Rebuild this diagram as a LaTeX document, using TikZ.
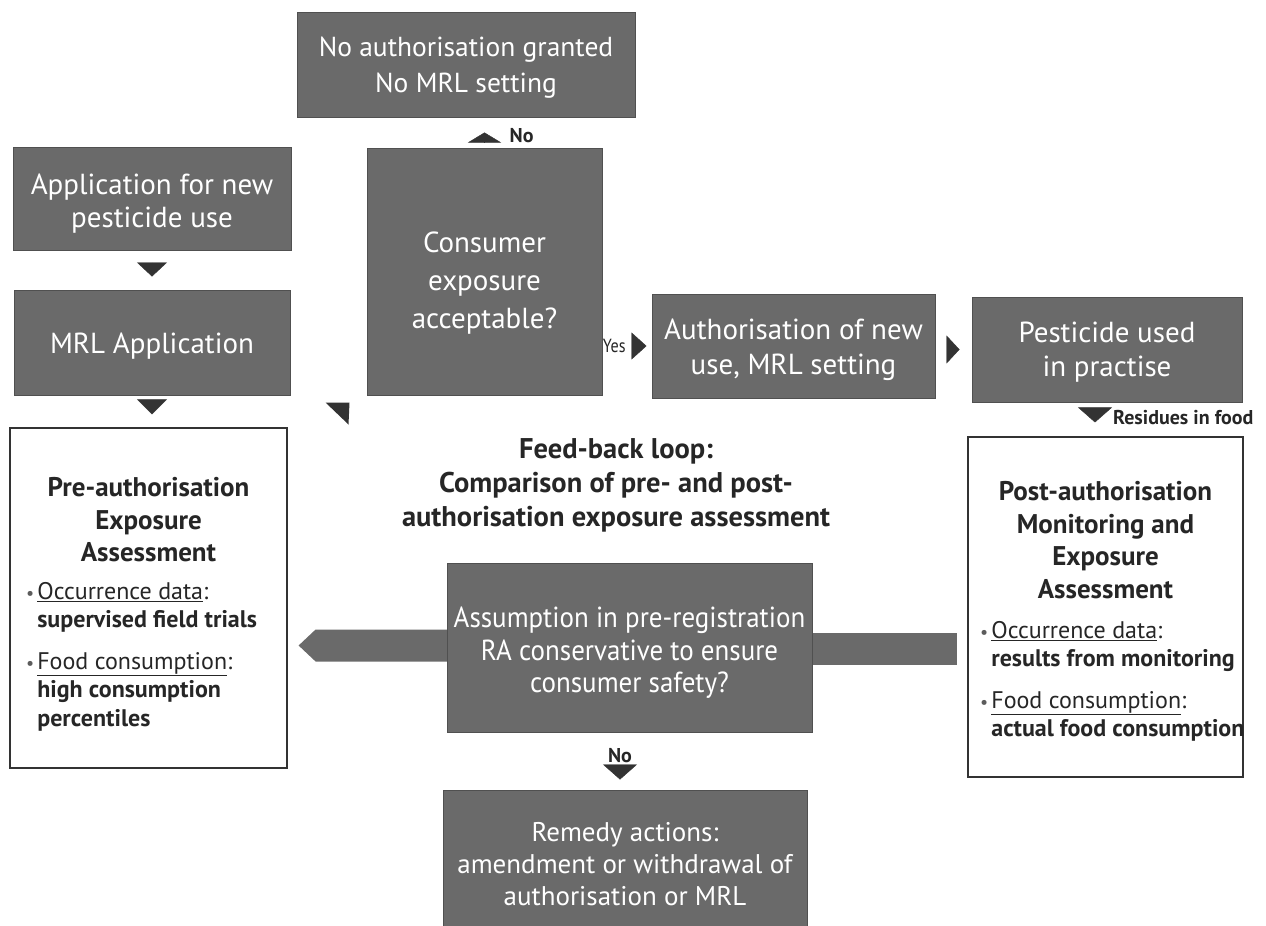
\documentclass[tikz,border=0pt]{standalone}
\usepackage{fontspec}
\setmainfont{PT Sans}
\usetikzlibrary{arrows.meta,calc}
\definecolor{boxgray}{HTML}{6A6A6A}
\definecolor{boxedge}{HTML}{505050}
\definecolor{tricol}{HTML}{333333}
\definecolor{txtcol}{HTML}{262626}
\newcommand\bulmark{{\color{txtcol!75}\fontsize{18}{20}\selectfont\textbullet}}
\begin{document}
\begin{tikzpicture}[x=1pt,y=-1pt,
  gbox/.style={draw=boxedge, line width=1pt, fill=boxgray, text=white, align=center,
    inner sep=0pt, font=\fontsize{29}{34}\selectfont},
  wbox/.style={draw=black!80, line width=1.2pt, fill=white, inner sep=0pt},
  tipc/.style 2 args={draw=tricol, line width=0.4pt, -{Triangle[width=#1,length=#2]}},
  lbl/.style={inner sep=0pt, text=txtcol, font=\bfseries\fontsize{20}{22}\selectfont},
  titletext/.style={inner sep=0pt, text=txtcol, align=center, font=\bfseries\fontsize{27}{32.5}\selectfont},
  bultext/.style={inner sep=0pt, text=txtcol, anchor=north west, font=\fontsize{24}{28.5}\selectfont}
]
\useasboundingbox (0,0) rectangle (1266,926);

% gray boxes
\node[gbox, minimum width=338pt, minimum height=105pt, font=\fontsize{27.5}{36}\selectfont] (top) at (466,64.5)
  {\vphantom{Ag}\\[-30pt]No authorisation granted\\No MRL setting};
\node[gbox, minimum width=235pt, minimum height=247pt, font=\fontsize{29}{38}\selectfont] (cons) at (484.5,271.5)
  {\vphantom{Ag}\\[-15pt]Consumer\\exposure\\acceptable?};
\node[gbox, minimum width=278pt, minimum height=103pt, font=\fontsize{29}{33}\selectfont] (app) at (152,198.5)
  {\vphantom{Ag}\\[-22pt]Application for new\\pesticide use};
\node[gbox, minimum width=276pt, minimum height=105pt] (mrl) at (152,342.5)
  {\vphantom{Ag}\\[-26pt]MRL Application};
\node[gbox, minimum width=283pt, minimum height=104pt, font=\fontsize{29}{35}\selectfont] (auth) at (793.5,346)
  {\vphantom{Ag}\\[-27pt]Authorisation of new\\use, MRL setting};
\node[gbox, minimum width=270pt, minimum height=105pt, font=\fontsize{29}{34}\selectfont] (pest) at (1107,349.5)
  {\vphantom{Ag}\\[-28pt]Pesticide used\\in practise};

% white boxes
\node[wbox, minimum width=277pt, minimum height=340pt] (pre) at (148.5,598) {};
\node[wbox, minimum width=275pt, minimum height=340pt] (post) at (1105.5,607) {};

% thick feedback arrows
\fill[boxgray] ($(pre.east |- 0,647.5)+(28,-18)$) -- (447,629.5) -- (447,661.5)
  -- ($(pre.east |- 0,647.5)+(28,14)$) -- ($(pre.east |- 0,647.5)+(11,-2)$) -- cycle;
\fill[boxgray] (812,632.5) rectangle ($(post.west |- 0,664.5)+(-10,0)$);

% middle & remedy boxes
\node[gbox, minimum width=365pt, minimum height=169pt, font=\fontsize{29}{32.5}\selectfont] (mid) at (629.5,647.5)
  {\vphantom{Ag}\\[-22pt]\addfontfeature{FakeStretch=0.93}Assumption in pre-registration\\\addfontfeature{FakeStretch=0.93}RA conservative to ensure\\\addfontfeature{FakeStretch=0.93}consumer safety?};
\node[gbox, minimum width=364pt, minimum height=138pt, font=\fontsize{27}{32}\selectfont] (rem) at (625,859)
  {\vphantom{Ag}\\[-22pt]Remedy actions:\\amendment or withdrawal of\\authorisation or MRL};

% texts in white boxes
\node[titletext] (pretitle) at (pre.center |- 0,520) {Pre-authorisation\\Exposure\\Assessment};
\node[bultext] (prebul) at (26,579) {%
  \begin{tabular}{@{}l@{\hspace{3pt}}l@{}}
  \bulmark & \underline{Occurrence data}:\\
  & \textbf{supervised field trials}\\[13pt]
  \bulmark & \underline{Food consumption}:\\
  & \textbf{high consumption}\\
  & \textbf{percentiles}
  \end{tabular}};
\node[titletext] (posttitle) at (post.center |- 0,540) {Post-authorisation\\Monitoring and\\Exposure\\Assessment};
\node[bultext] (postbul) at (980,618) {%
  \begin{tabular}{@{}l@{\hspace{3pt}}l@{}}
  \bulmark & \underline{Occurrence data}:\\
  & \textbf{results from monitoring}\\[13pt]
  \bulmark & \underline{Food consumption}:\\
  & \textbf{actual food consumption}
  \end{tabular}};

\node[titletext, font=\bfseries\fontsize{28.5}{34}\selectfont] (fb) at (616,485)
  {Feed-back loop:\\Comparison of pre- and post-\\authorisation exposure assessment};

% triangle connectors
\draw[tipc={30pt}{14pt}, shorten <=12pt, shorten >=13pt] (app.south) -- (mrl.north);
\draw[tipc={30pt}{15pt}, shorten <=4pt, shorten >=13pt] (mrl.south) -- (pre.north -| mrl.south);
\draw[tipc={33pt}{10pt}, shorten <=6pt, shorten >=15pt] (cons.north) --
  node[lbl, pos=0.4, anchor=west, xshift=25pt] (nolbl) {No} (top.south -| cons.north);
\draw[tipc={27pt}{15pt}, shorten <=30pt, shorten >=5pt] (cons.east |- auth.west) --
  node[lbl, pos=0.24, font=\fontsize{19}{21}\selectfont] (yeslbl) {\addfontfeature{FakeStretch=0.85}Yes} (auth.west);
\draw[tipc={28pt}{13pt}, shorten <=12pt, shorten >=12pt] (auth.east |- pest.west) -- (pest.west);
\draw[tipc={34pt}{15pt}, shorten <=6pt, shorten >=14pt] ([xshift=-12pt]pest.south) --
  node[lbl, pos=0.43, anchor=west, xshift=18pt] (reslbl) {Residues in food} ([xshift=-12pt]pest.south |- post.north);
\draw[tipc={34pt}{15pt}, shorten <=33pt, shorten >=10pt] ([xshift=-5pt]rem.north |- mid.south) --
  node[lbl, pos=0.4] (no2lbl) {No} ([xshift=-5pt]rem.north);
\fill[tricol] ($(cons.south west)+(-41,7)$) -- ($(cons.south west)+(-17,7)$) -- ($(cons.south west)+(-18,29)$) -- cycle;
\end{tikzpicture}
\end{document}
